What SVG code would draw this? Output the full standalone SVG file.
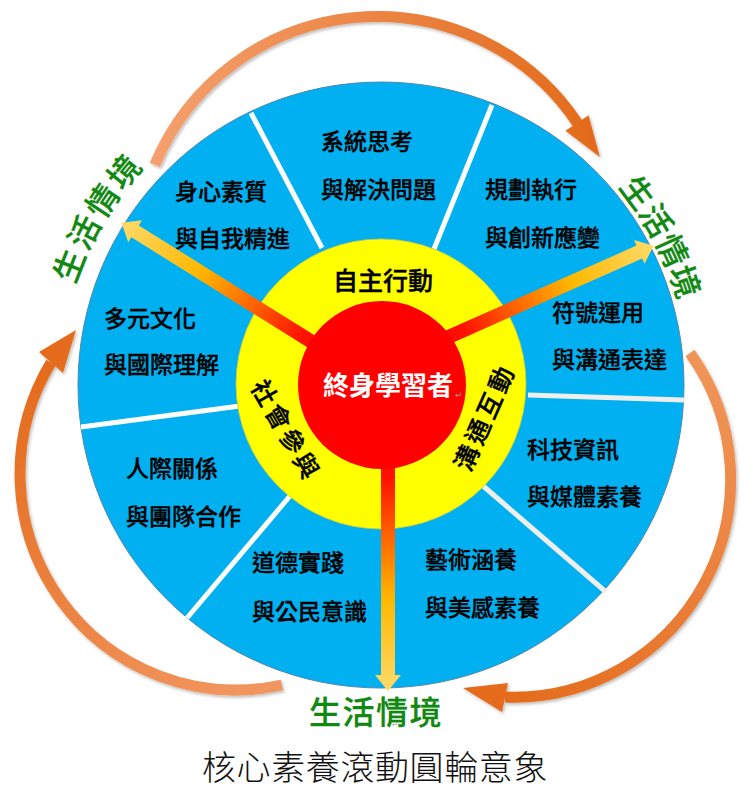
<svg xmlns="http://www.w3.org/2000/svg" width="753" height="795" viewBox="0 0 753 795">
<defs>
  <style>
    .lbl{font-family:"Noto Sans CJK TC","Noto Sans CJK SC",sans-serif;font-size:23px;font-weight:500;fill:#000;stroke:#000;stroke-width:0.35px;}
    .ring{font-family:"Noto Sans CJK TC","Noto Sans CJK SC",sans-serif;font-size:24px;font-weight:500;fill:#000;stroke:#000;stroke-width:0.4px;}
    .ctx{font-family:"Noto Sans CJK TC","Noto Sans CJK SC",sans-serif;font-weight:500;fill:#118811;stroke:#118811;stroke-width:0.3px;}
    .div{stroke:#ffffff;stroke-width:5;}
    .div2{stroke:#eeeeee;stroke-width:5;}
    .cyc{fill:none;stroke-width:11;}
    .mark{font-family:"DejaVu Sans",sans-serif;font-size:9px;fill:#9a9a9a;}
  </style>
  <filter id="sh" x="-20%" y="-20%" width="140%" height="140%">
    <feDropShadow dx="1.5" dy="2" stdDeviation="1.5" flood-color="#000" flood-opacity="0.25"/>
  </filter>
  <linearGradient id="gTop" gradientUnits="userSpaceOnUse" x1="155" y1="165" x2="600" y2="158">
    <stop offset="0" stop-color="#F4A06E"/>
    <stop offset="1" stop-color="#E36A1A"/>
  </linearGradient>
  <linearGradient id="gRight" gradientUnits="userSpaceOnUse" x1="690" y1="353" x2="463" y2="690">
    <stop offset="0" stop-color="#F09458"/>
    <stop offset="1" stop-color="#E46A1A"/>
  </linearGradient>
  <linearGradient id="gLeft" gradientUnits="userSpaceOnUse" x1="282" y1="685" x2="76" y2="330">
    <stop offset="0" stop-color="#F29660"/>
    <stop offset="1" stop-color="#E46A1A"/>
  </linearGradient>
  <linearGradient id="gRay" x1="0" y1="0" x2="1" y2="0">
    <stop offset="0" stop-color="#FF0000"/>
    <stop offset="0.3" stop-color="#FF1000"/>
    <stop offset="0.47" stop-color="#FF5A00"/>
    <stop offset="0.7" stop-color="#FFB800"/>
    <stop offset="1" stop-color="#FFDA6A"/>
  </linearGradient>
  <path id="ray" d="M0,-7 L290,-7 L290,-13 L306,0 L290,13 L290,7 L0,7 Z"/>
  <path id="pLeft" d="M46.3,414.3 A336,336 0 0 1 239,80.5"/>
  <path id="pRight" d="M527.6,97.2 A323,323 0 0 1 701.6,424.4"/>
  <path id="pSoc" d="M256,374.7 L318,482.3"/>
  <path id="pCom" d="M457,475.3 L508,359.7"/>
</defs>

<rect width="753" height="795" fill="#ffffff"/>

<!-- cycle arrows (connectors) -->
<g id="connectors">
  <g id="cycle-arrows" filter="url(#sh)">
    <path class="cyc" stroke="url(#gTop)" d="M154.8,164.9 A241,241 0 0 1 577.4,123.1"/>
    <polygon fill="url(#gTop)" points="588.6,115.2 599.9,157 565.4,130.8"/>
    <path class="cyc" stroke="url(#gRight)" d="M690,353 A217.5,217.5 0 0 1 505,697"/>
    <polygon fill="url(#gRight)" points="508,683 463,688 502,712"/>
    <path class="cyc" stroke="url(#gLeft)" d="M282,685 A216,216 0 0 1 51,362.5"/>
    <polygon fill="url(#gLeft)" points="39,352 76,330 63,373"/>
  </g>
</g>

<!-- outer ring of nine competencies -->
<g id="outer-ring">
  <circle cx="381" cy="385" r="303" fill="#00B0F0" stroke="#4f87b0" stroke-width="1"/>
  <line class="div" x1="251" y1="113" x2="322" y2="248"/>
  <line class="div" x1="492" y1="105" x2="434" y2="249"/>
  <line class="div2" x1="528" y1="395" x2="684" y2="400"/>
  <line class="div2" x1="482" y1="485" x2="606" y2="592"/>
  <line class="div" x1="295" y1="490" x2="187" y2="618"/>
  <line class="div" x1="81" y1="427" x2="240" y2="406"/>
</g>

<g id="sector-a2"><text class="lbl" x="321" y="149.5">系統思考</text><text class="lbl" x="321" y="197.5">與解決問題</text></g>
<g id="sector-a1"><text class="lbl" x="175" y="199.5">身心素質</text><text class="lbl" x="175" y="246.5">與自我精進</text></g>
<g id="sector-a3"><text class="lbl" x="485" y="197.5">規劃執行</text><text class="lbl" x="485" y="245.5">與創新應變</text></g>
<g id="sector-c3"><text class="lbl" x="104" y="326.5">多元文化</text><text class="lbl" x="104" y="372.5">與國際理解</text></g>
<g id="sector-b1"><text class="lbl" x="552" y="320.5">符號運用</text><text class="lbl" x="552" y="367.5">與溝通表達</text></g>
<g id="sector-c2"><text class="lbl" x="126" y="476.5">人際關係</text><text class="lbl" x="126" y="524.5">與團隊合作</text></g>
<g id="sector-b2"><text class="lbl" x="527" y="457.5">科技資訊</text><text class="lbl" x="527" y="504.5">與媒體素養</text></g>
<g id="sector-c1"><text class="lbl" x="252" y="570.5">道德實踐</text><text class="lbl" x="252" y="619.5">與公民意識</text></g>
<g id="sector-b3"><text class="lbl" x="425" y="567.5">藝術涵養</text><text class="lbl" x="425" y="615.5">與美感素養</text></g>

<!-- middle ring of three dimensions -->
<g id="middle-ring">
  <circle cx="381" cy="384" r="145" fill="#FFFF00" stroke="#c9c94a" stroke-width="0.8"/>
</g>
<g id="dim-autonomy"><text class="ring" style="font-size:25px" x="383" y="289.5" text-anchor="middle">自主行動</text></g>
<g id="dim-social"><text class="ring" style="font-size:25px" letter-spacing="3" dominant-baseline="central"><textPath href="#pSoc" startOffset="51%" text-anchor="middle">社會參與</textPath></text></g>
<g id="dim-communication"><text class="ring" style="font-size:25px" letter-spacing="3.5" dominant-baseline="central"><textPath href="#pCom" startOffset="51%" text-anchor="middle">溝通互動</textPath></text></g>

<!-- radial arrows -->
<g id="radial-arrows">
  <use href="#ray" fill="url(#gRay)" transform="translate(381,385) rotate(-148)"/>
  <use href="#ray" fill="url(#gRay)" transform="translate(381,367) rotate(-24) scale(0.975,1)"/>
  <use href="#ray" fill="url(#gRay)" transform="translate(388,385) rotate(90)"/>
</g>

<!-- core -->
<g id="core">
  <circle cx="382" cy="385" r="84" fill="#FF0000"/>
  <text x="323" y="394.5" style="font-family:'Noto Sans CJK TC','Noto Sans CJK SC',sans-serif;font-size:26px;font-weight:700;fill:#ffffff">終身學習者</text>
  <text class="mark" x="455" y="398">↵</text>
</g>

<!-- life context labels -->
<g id="context-left"><text class="ctx" style="font-size:32px" letter-spacing="4.5" dominant-baseline="central"><textPath href="#pLeft" startOffset="51%" text-anchor="middle">生活情境</textPath></text></g>
<g id="context-right"><text class="ctx" style="font-size:32px" letter-spacing="2" dominant-baseline="central"><textPath href="#pRight" startOffset="50.5%" text-anchor="middle">生活情境</textPath></text></g>
<g id="context-bottom">
  <text class="ctx" style="font-size:32px" x="309" y="724" letter-spacing="1.5">生活情境</text>
  <text class="mark" style="font-size:7px" x="392" y="727">↵</text>
</g>

<!-- title -->
<g id="title">
  <text x="375" y="780" text-anchor="middle" style="font-family:'Noto Sans CJK TC','Noto Sans CJK SC',serif;font-size:34px;font-weight:300;fill:#111" letter-spacing="0.6">核心素養滾動圓輪意象</text>
</g>
</svg>
